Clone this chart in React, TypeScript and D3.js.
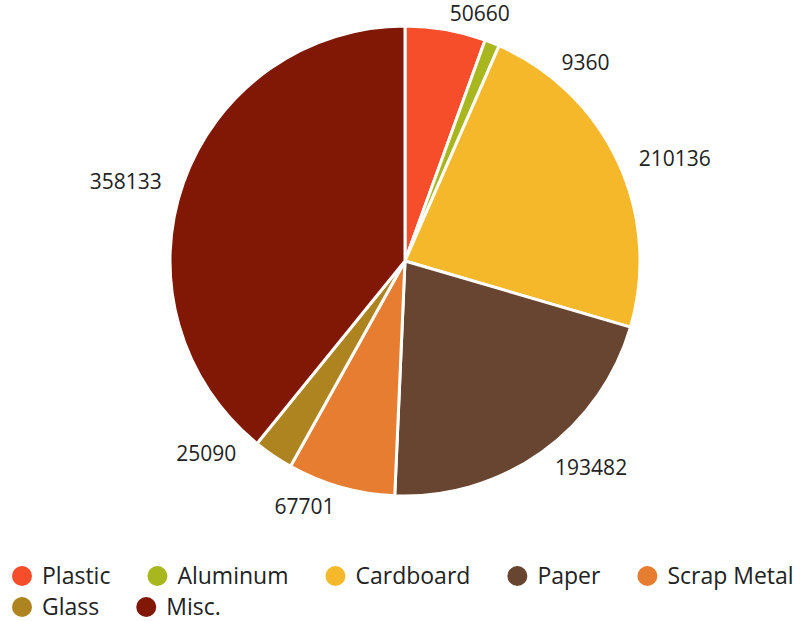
import { useEffect, useRef } from "react";
import * as d3 from "d3";

const categories = ["Plastic", "Aluminum", "Cardboard", "Paper", "Scrap Metal", "Glass", "Misc."];
const values = [50660, 9360, 210136, 193482, 67701, 25090, 358133];
const colors = ["#f64d2a", "#a9b71f", "#f5b82a", "#684530", "#e67d31", "#ad8420", "#801805"];

const W = 800;
const H = 621;
const FONT = "'Open Sans', sans-serif";

export default function App() {
  const ref = useRef<SVGSVGElement>(null);

  useEffect(() => {
    if (!ref.current) return;
    const svg = d3.select(ref.current);
    svg.selectAll("*").remove();

    const cx = 405;
    const cy = 261;
    const r = 235;
    const labelR = 258;

    const data = categories.map((c, i) => ({ name: c, value: values[i], color: colors[i] }));
    const pie = d3.pie<any>().sort(null).value((d) => d.value);
    const arcs = pie(data);
    const arc = d3.arc<any>().innerRadius(0).outerRadius(r);

    const g = svg.append("g").attr("transform", `translate(${cx},${cy})`);
    g.selectAll("path")
      .data(arcs)
      .join("path")
      .attr("d", arc)
      .attr("fill", (d) => d.data.color)
      .attr("stroke", "#fff")
      .attr("stroke-width", 3)
      .attr("stroke-linejoin", "round");

    // label positions, pushed apart when they collide
    const labels = arcs.map((a) => {
      const mid = (a.startAngle + a.endAngle) / 2;
      return {
        text: String(a.data.value),
        right: Math.sin(mid) >= 0,
        y: -Math.cos(mid) * labelR,
        x: Math.sin(mid) * labelR,
      };
    });
    [true, false].forEach((side) => {
      const gap = side ? 49 : 53;
      const s = labels.filter((l) => l.right === side);
      const upper = s.filter((l) => l.y < 0).sort((a, b) => a.y - b.y);
      for (let i = 1; i < upper.length; i++) {
        if (upper[i].y < upper[i - 1].y + gap) upper[i].y = upper[i - 1].y + gap;
      }
      const lower = s.filter((l) => l.y >= 0).sort((a, b) => b.y - a.y);
      for (let i = 1; i < lower.length; i++) {
        if (lower[i].y > lower[i - 1].y - gap) lower[i].y = lower[i - 1].y - gap;
      }
      s.forEach((l) => {
        const dx = Math.sqrt(Math.max(0, labelR * labelR - l.y * l.y));
        l.x = side ? dx : -dx;
      });
    });

    g.selectAll("text.lbl")
      .data(labels)
      .join("text")
      .attr("class", "lbl")
      .attr("x", (d) => d.x)
      .attr("y", (d) => d.y + (d.y < 0 ? 7 : -3))
      .attr("dy", "0.35em")
      .attr("text-anchor", (d) => (d.right ? "start" : "end"))
      .attr("font-family", FONT)
      .attr("font-size", 21)
      .attr("fill", "#222")
      .text((d) => d.text);

    // legend
    const legend = svg.append("g");
    let x = 12;
    let y = 576;
    const rowH = 31;
    data.forEach((d) => {
      const item = legend.append("g");
      const t = item
        .append("text")
        .attr("x", 30)
        .attr("dy", "0.35em")
        .attr("font-family", FONT)
        .attr("font-size", 23)
        .attr("fill", "#222")
        .text(d.name);
      const tw = (t.node() as SVGTextElement).getComputedTextLength();
      const w = 30 + tw;
      if (x + w > W && x > 12) {
        x = 12;
        y += rowH;
      }
      item.attr("transform", `translate(${x},${y})`);
      item.append("circle").attr("cx", 10).attr("cy", 0).attr("r", 10).attr("fill", d.color);
      x += w + 37;
    });
  }, []);

  return (
    <svg
      ref={ref}
      width={W}
      height={H}
      style={{ position: "absolute", left: 0, top: 0, background: "#fff" }}
    />
  );
}
